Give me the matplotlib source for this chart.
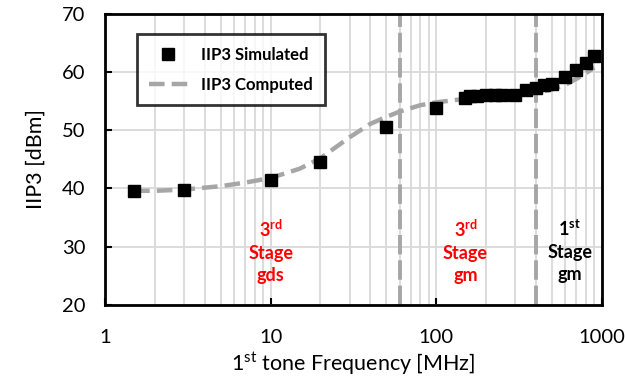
import matplotlib.pyplot as plt
from matplotlib.ticker import LogLocator, NullFormatter

# simulated points (MHz, dBm)
sim_freq = [1.5, 3, 10, 20, 50, 100, 150, 160, 175, 200, 225, 250, 300,
            350, 400, 450, 500, 600, 700, 800, 900]
sim_iip3 = [39.5, 39.8, 41.4, 44.6, 50.5, 53.9, 55.6, 55.8, 55.9, 56.0,
            56.0, 56.0, 56.1, 56.9, 57.2, 57.7, 58.0, 59.1, 60.3, 61.6, 62.8]

# computed curve
comp_freq = [1.5, 2, 3, 5, 7, 10, 15, 20, 30, 40, 50, 60, 80, 100, 150,
             200, 300, 400, 500, 600, 700, 800, 900]
comp_iip3 = [39.6, 39.6, 39.8, 40.4, 41.0, 41.8, 43.4, 45.2, 48.8, 51.1,
             52.3, 53.2, 54.3, 54.8, 55.4, 55.7, 56.0, 56.4, 57.0, 57.8,
             58.8, 59.8, 60.8]

boundaries = [60, 400]
region_x = [10, 150, 640]
region_labels = [r'$\mathbf{3^{rd}}$' + '\nStage\ngds',
                 r'$\mathbf{3^{rd}}$' + '\nStage\ngm',
                 r'$\mathbf{1^{st}}$' + '\nStage\ngm']
region_colors = ['#ff0000', '#ff0000', 'black']

plt.rcParams.update({
    'font.family': 'Lato',
    'mathtext.fontset': 'custom',
    'mathtext.rm': 'Lato',
    'mathtext.bf': 'Lato:bold',
    'mathtext.default': 'rm',
})

fig = plt.figure(figsize=(6.25, 3.84), dpi=100)
ax = fig.add_axes([0.168, 0.206, 0.795, 0.758])

ax.set_xscale('log')
ax.set_xlim(1, 1000)
ax.set_ylim(20, 70)
ax.set_yticks([20, 30, 40, 50, 60, 70])
ax.xaxis.set_minor_locator(LogLocator(base=10, subs=range(2, 10)))
ax.xaxis.set_minor_formatter(NullFormatter())
ax.set_xticks([1, 10, 100, 1000])
ax.set_xticklabels(['1', '10', '100', '1000'])

ax.grid(which='both', axis='x', color='#d9d9d9', linewidth=1.3)
ax.grid(which='major', axis='y', color='#d9d9d9', linewidth=1.3)
ax.set_axisbelow(True)

ax.tick_params(which='major', direction='in', length=5, width=1.5,
               labelsize=14.5)
ax.tick_params(axis='x', which='major', pad=17)
ax.tick_params(axis='y', which='major', pad=14)
ax.tick_params(which='minor', length=0)
for s in ax.spines.values():
    s.set_linewidth(2)

for b in boundaries:
    ax.axvline(b, color='#a6a6a6', linewidth=2.8, dashes=(5, 1.5), zorder=2)

ax.plot(comp_freq, comp_iip3, color='#a6a6a6', linewidth=3.2,
        dashes=(3.5, 1.6), label='IIP3 Computed', zorder=3)
ax.plot(sim_freq, sim_iip3, 's', color='black', markersize=8,
        label='IIP3 Simulated', zorder=4)

for x, t, c in zip(region_x, region_labels, region_colors):
    ax.text(x, 29.2, t, color=c, fontsize=13, fontweight='bold',
            ha='center', va='center', linespacing=1.35)

h, l = ax.get_legend_handles_labels()
leg = ax.legend(h[::-1], l[::-1], loc='upper left', bbox_to_anchor=(0.064, 0.93),
                borderaxespad=0, prop={'weight': 'bold', 'size': 12},
                frameon=True, fancybox=False, edgecolor='black',
                handlelength=2.3, borderpad=0.75, labelspacing=0.85)
leg.get_frame().set_linewidth(2)

ax.set_xlabel(r'1$^{st}$ tone Frequency [MHz]', fontsize=15.5, labelpad=4)
ax.set_ylabel('IIP3 [dBm]', fontsize=15.5, labelpad=12)

fig.savefig('out.png', dpi=100)
